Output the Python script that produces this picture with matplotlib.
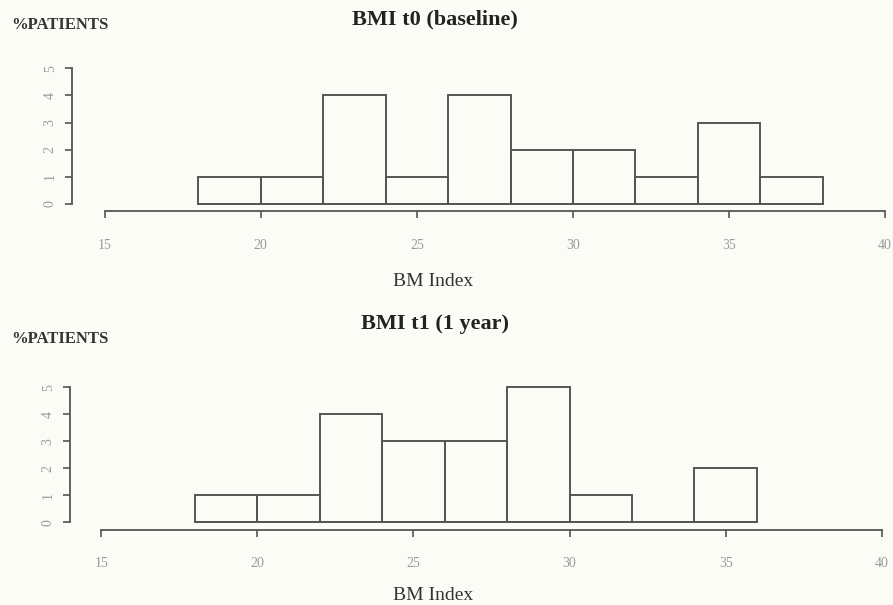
import matplotlib.pyplot as plt

bin_edges = [18, 20, 22, 24, 26, 28, 30, 32, 34, 36, 38]
counts_t0 = [1, 1, 4, 1, 4, 2, 2, 1, 3, 1]
counts_t1 = [1, 1, 4, 3, 3, 5, 1, 0, 2]
x_ticks = [15, 20, 25, 30, 35, 40]
y_ticks = [0, 1, 2, 3, 4, 5]
titles = ["BMI t0 (baseline)", "BMI t1 (1 year)"]

bg = "#fcfcf7"
line_col = "#555555"
plt.rcParams["font.family"] = ["Liberation Serif", "DejaVu Serif"]

fig = plt.figure(figsize=(8.93, 6.05), dpi=100, facecolor=bg)

panels = [
    # axes rect, xlim, counts, title y, ylabel y, xlabel y
    ([0.0806, 0.6585, 0.914, 0.2375], (13.95, 40.1), counts_t0, 0.968, 0.958, 0.534),
    ([0.0784, 0.1325, 0.9125, 0.2365], (14.0, 40.1), counts_t1, 0.465, 0.44, 0.016),
]

for i, (rect, xlim, counts, ty, ly, xy) in enumerate(panels):
    ax = fig.add_axes(rect)
    ax.set_facecolor("none")
    ax.bar(bin_edges[:len(counts)], counts, width=2, align="edge",
           facecolor="none", edgecolor=line_col, linewidth=1.4)
    # base line of the histogram (shows empty bins too, like R)
    ax.plot([bin_edges[0], bin_edges[len(counts)]], [0, 0],
            color=line_col, linewidth=1.4)
    ax.set_xlim(*xlim)
    ax.set_ylim(-0.1, 5.2)

    for s in ["top", "right"]:
        ax.spines[s].set_visible(False)
    ax.spines["bottom"].set_position(("outward", 3.5))
    ax.spines["bottom"].set_bounds(15, 40)
    ax.spines["left"].set_bounds(0, 5)
    for s in ["bottom", "left"]:
        ax.spines[s].set_color(line_col)
        ax.spines[s].set_linewidth(1.3)

    ax.set_xticks(x_ticks)
    ax.set_yticks(y_ticks)
    ax.tick_params(axis="both", direction="out", length=5, width=1.2,
                   color=line_col, labelcolor="#999999", labelsize=10)
    ax.tick_params(axis="x", pad=15)
    ax.tick_params(axis="y", pad=6)
    for lab in ax.get_yticklabels():
        lab.set_rotation(90)
        lab.set_va("center")

    fig.text(0.487, ty, titles[i], ha="center", va="center",
             fontsize=16, fontweight="bold", color="#222222")
    fig.text(0.013, ly, "%PATIENTS", ha="left", va="center",
             fontsize=12, fontweight="bold", color="#333333")
    fig.text(0.485, xy, "BM Index", ha="center", va="center",
             fontsize=14, color="#333333")

fig.savefig("out.png", dpi=100, facecolor=bg)
